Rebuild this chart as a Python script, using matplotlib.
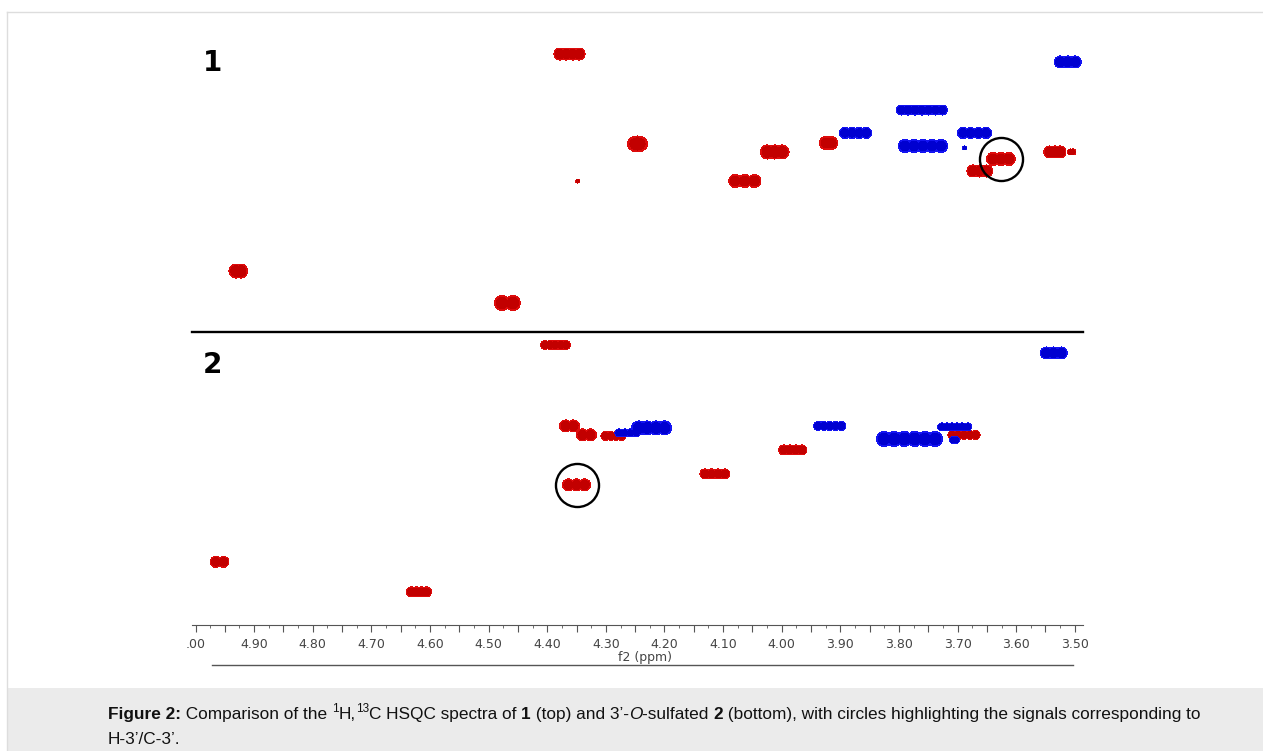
import numpy as np
import matplotlib
matplotlib.use("Agg")
import matplotlib.pyplot as plt
from matplotlib.lines import Line2D
from matplotlib.patches import Rectangle
from matplotlib.ticker import MultipleLocator, FuncFormatter

# HSQC cross peaks, 1H shift (ppm), 13C shift (ppm), widths in 1H / 13C ppm
# compound 1 (top), positive (CH) peaks
p1_h = [4.362, 4.246, 4.348, 4.012, 4.063, 3.920, 4.927, 4.468, 3.626, 3.662, 3.534, 3.505]
p1_c = [59.45, 75.16, 81.63, 76.56, 81.63, 74.99, 97.35, 102.94, 77.78, 79.88, 76.56, 76.56]
p1_wh = [0.053, 0.034, 0.007, 0.049, 0.055, 0.031, 0.032, 0.044, 0.049, 0.044, 0.038, 0.014]
p1_wc = [2.10, 2.79, 0.70, 2.45, 2.27, 2.27, 2.45, 2.62, 2.27, 2.10, 2.10, 1.05]
# compound 1, negative (CH2) peaks
n1_h = [3.512, 3.761, 3.874, 3.759, 3.671, 3.688]
n1_c = [60.84, 69.23, 73.24, 75.51, 73.24, 75.86]
n1_wh = [0.046, 0.087, 0.055, 0.084, 0.058, 0.007]
n1_wc = [2.10, 1.75, 1.92, 2.27, 1.92, 0.70]

# compound 2 (bottom)
p2_h = [4.386, 4.362, 4.333, 4.287, 4.350, 4.114, 3.981, 4.959, 4.619, 3.689]
p2_c = [59.27, 73.42, 74.99, 75.16, 83.72, 81.80, 77.61, 97.17, 102.41, 74.99]
p2_wh = [0.051, 0.034, 0.034, 0.043, 0.048, 0.051, 0.048, 0.032, 0.043, 0.055]
p2_wc = [1.57, 2.10, 2.10, 1.57, 2.10, 1.75, 1.75, 1.92, 1.75, 1.57]
n2_h = [3.536, 4.222, 4.263, 3.918, 3.782, 3.705, 3.705]
n2_c = [60.67, 73.77, 74.64, 73.42, 75.69, 73.59, 75.86]
n2_wh = [0.046, 0.068, 0.043, 0.055, 0.113, 0.058, 0.017]
n2_wc = [2.10, 2.45, 1.40, 1.57, 2.62, 1.40, 1.22]

# H-3'/C-3' signals
circ1 = (3.626, 77.78)
circ2 = (4.350, 83.72)

W, H = 1263, 751
XL = (5.006, 3.486)
YL1 = (108.0, 57.0)
YL2 = (108.2, 57.0)

fig = plt.figure(figsize=(W / 100, H / 100), dpi=100)

# frame and caption box
fig.add_artist(Line2D([7 / W, 1], [1 - 12 / H] * 2, color="#dddddd", lw=1))
fig.add_artist(Line2D([7 / W] * 2, [0, 1 - 12 / H], color="#dddddd", lw=1))
fig.add_artist(Rectangle((8 / W, 0), 1, (H - 688) / H, color="#ebebeb", lw=0))

left, width = 192 / W, 891 / W
ax1 = fig.add_axes([left, 1 - 332 / H, width, 292 / H])
ax2 = fig.add_axes([left, 1 - 625 / H, width, 293 / H])


def field(X, Y, hs, cs, wh, wc, k):
    F = np.zeros_like(X)
    for h, c, a, b in zip(hs, cs, wh, wc):
        r = b / 2
        rx = r * k
        if a < 1.25 * 2 * rx:
            offs, rx = [0.0], a / 2
        else:
            n = 1 + int(np.ceil((a - 2 * rx) / (1.5 * rx)))
            offs = np.linspace(-(a / 2 - rx), a / 2 - rx, n)
        for o in offs:
            d2 = ((X - h - o) / rx) ** 2 + ((Y - c) / r) ** 2
            F = np.maximum(F, np.exp(-d2 * np.log(4)))
    return F


def panel(ax, yl, ph, pc, pwh, pwc, nh, nc, nwh, nwc, circ):
    bb = ax.get_position()
    k = (abs(XL[0] - XL[1]) / (bb.width * W)) / (abs(yl[0] - yl[1]) / (bb.height * H))
    x = np.linspace(XL[1], XL[0], 1500)
    y = np.linspace(yl[1], yl[0], 500)
    X, Y = np.meshgrid(x, y)
    Fp = field(X, Y, ph, pc, pwh, pwc, k)
    Fn = field(X, Y, nh, nc, nwh, nwc, k)
    ax.contourf(X, Y, Fp, levels=[0.25, 0.45, 2], colors=["#dd0c0c", "#c20000"])
    ax.contourf(X, Y, Fn, levels=[0.25, 0.45, 2], colors=["#1414f2", "#0000d0"])
    ax.plot(*circ, "o", mfc="none", mec="black", ms=31, mew=1.7)
    ax.set_xlim(XL)
    ax.set_ylim(yl)
    ax.set_yticks([])
    for s in ax.spines.values():
        s.set_visible(False)


panel(ax1, YL1, p1_h, p1_c, p1_wh, p1_wc, n1_h, n1_c, n1_wh, n1_wc, circ1)
panel(ax2, YL2, p2_h, p2_c, p2_wh, p2_wc, n2_h, n2_c, n2_wh, n2_wc, circ2)

ax1.set_xticks([])
ax2.spines["top"].set_visible(True)
ax2.spines["top"].set_linewidth(1.7)
ax2.spines["bottom"].set_visible(True)
ax2.spines["bottom"].set_color("#555555")
ax2.xaxis.set_major_locator(MultipleLocator(0.05))
ax2.xaxis.set_minor_locator(MultipleLocator(0.025))


def fmt(v, pos):
    if abs(v * 10 - round(v * 10)) > 1e-6:
        return ""
    if v > 4.999:
        return ".00"
    return f"{v:.2f}"


ax2.xaxis.set_major_formatter(FuncFormatter(fmt))
ax2.tick_params(axis="x", which="major", length=5, color="#555555", labelsize=9,
                labelcolor="#444444", pad=4)
ax2.tick_params(axis="x", which="minor", length=2.5, color="#555555")

fig.text(645 / W, 1 - 657 / H, "f2 (ppm)", ha="center", va="center", fontsize=9, color="#444444")
fig.add_artist(Line2D([212 / W, 1073 / W], [1 - 665 / H] * 2, color="#555555", lw=1))

fig.text(213 / W, 1 - 63 / H, "1", ha="center", va="center", fontsize=20, fontweight="bold")
fig.text(212 / W, 1 - 365 / H, "2", ha="center", va="center", fontsize=20, fontweight="bold")

# caption, written run by run
renderer = fig.canvas.get_renderer()


def runs(x, y, parts, size=12.45):
    for s, style in parts:
        kw = dict(fontsize=size, family="Liberation Sans", color="#111111", va="baseline")
        yy = y
        if style == "b":
            kw["fontweight"] = "bold"
        elif style == "i":
            kw["fontstyle"] = "italic"
        elif style == "sup":
            kw["fontsize"] = size * 0.68
            yy = y + size * 0.42 / 72 * 100 / H
        t = fig.text(x, yy, s, **kw)
        x += t.get_window_extent(renderer).width / W


runs(108 / W, 1 - 719 / H, [
    ("Figure 2:", "b"), (" Comparison of the ", ""), ("1", "sup"), ("H,", ""),
    ("13", "sup"), ("C HSQC spectra of ", ""), ("1", "b"), (" (top) and 3’-", ""),
    ("O", "i"), ("-sulfated ", ""), ("2", "b"),
    (" (bottom), with circles highlighting the signals corresponding to", ""),
])
runs(108 / W, 1 - 744 / H, [("H-3’/C-3’.", "")])

fig.savefig("out.png", dpi=100)
